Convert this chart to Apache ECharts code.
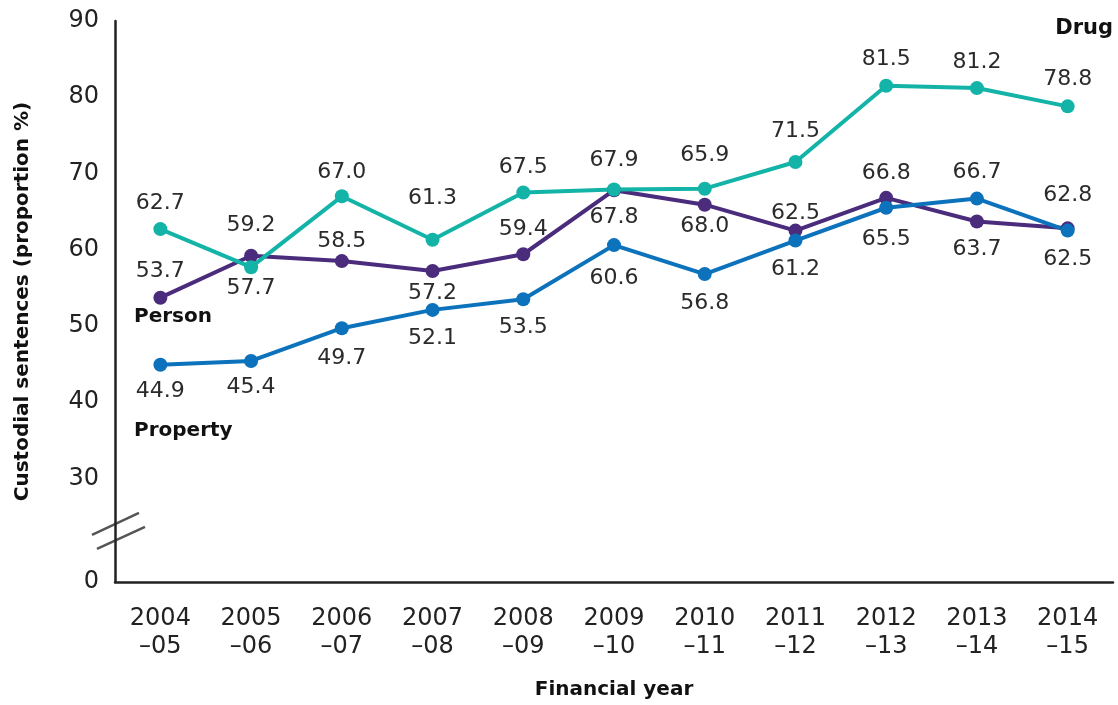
<!DOCTYPE html>
<html>
<head>
<meta charset="utf-8">
<script src="https://cdn.jsdelivr.net/npm/echarts@6/dist/echarts.min.js"></script>
<style>
html,body{margin:0;padding:0;background:#fff;}
#chart{width:1118px;height:705px;}
</style>
</head>
<body>
<div id="chart"></div>
<script>
// ---- data ----
const categories = ['2004\n–05','2005\n–06','2006\n–07','2007\n–08','2008\n–09','2009\n–10','2010\n–11','2011\n–12','2012\n–13','2013\n–14','2014\n–15'];
const drug     = [62.7, 57.7, 67.0, 61.3, 67.5, 67.9, 68.0, 71.5, 81.5, 81.2, 78.8];
const person   = [53.7, 59.2, 58.5, 57.2, 59.4, 67.8, 65.9, 62.5, 66.8, 63.7, 62.8];
const property = [44.9, 45.4, 49.7, 52.1, 53.5, 60.6, 56.8, 61.2, 65.5, 66.7, 62.5];
const yTicks   = [30, 40, 50, 60, 70, 80, 90];

// ---- layout (label placement, px offsets from each point) ----
const drugLabelDy     = [-26, 21, -24, -41, -25, -29, 38, -31, -27, -26, -27];
const personLabelDy   = [-26, -30, -20, 22, -25, 27, -49, -17, -25, 28, -33];
const propertyLabelDy = [27, 26, 30, 28, 28, 33, 29, 29, 32, -26, 29];

const FONT = 'DejaVu Sans';
const AXIS_MIN = 16.4;

function mkData(vals, dys) {
  return vals.map((v, i) => ({
    value: v,
    label: { offset: [0, dys[i]] }
  }));
}

function mkSeries(name, vals, dys, color) {
  return {
    name: name,
    type: 'line',
    data: mkData(vals, dys),
    symbol: 'circle',
    symbolSize: 14,
    lineStyle: { width: 4, color: color },
    itemStyle: { color: color },
    label: {
      show: true,
      position: 'inside',
      formatter: p => p.value.toFixed(1),
      fontFamily: FONT,
      fontSize: 22,
      color: '#2b2b2b'
    },
    emphasis: { disabled: true },
    animation: false
  };
}

const chart = echarts.init(document.getElementById('chart'), null, { renderer: 'canvas' });

const option = {
  backgroundColor: '#fff',
  animation: false,
  grid: { left: 115, right: 5, top: 21, bottom: 117, containLabel: false },
  xAxis: {
    type: 'category',
    data: categories,
    boundaryGap: true,
    axisLine: { lineStyle: { color: '#222', width: 2.5 } },
    axisTick: { show: false },
    axisLabel: { fontFamily: FONT, fontSize: 24, color: '#222', lineHeight: 28, margin: 23, interval: 0 },
    name: 'Financial year',
    nameLocation: 'middle',
    nameGap: 98,
    nameTextStyle: { fontFamily: FONT, fontSize: 20, fontWeight: 'bold', color: '#111' }
  },
  yAxis: {
    type: 'value',
    min: AXIS_MIN,
    max: 90,
    axisLine: { show: true, lineStyle: { color: '#222', width: 2.5 } },
    axisTick: { show: false },
    splitLine: { show: false },
    axisLabel: {
      customValues: [AXIS_MIN].concat(yTicks),
      formatter: v => (Math.abs(v - AXIS_MIN) < 0.01 ? '0' : String(Math.round(v))),
      fontFamily: FONT, fontSize: 24, color: '#222', margin: 16
    },
    name: 'Custodial sentences (proportion %)',
    nameLocation: 'middle',
    nameRotate: 90,
    nameGap: 82,
    nameTextStyle: { fontFamily: FONT, fontSize: 20, fontWeight: 'bold', color: '#111' }
  },
  series: [
    mkSeries('Person', person, personLabelDy, '#4a2b7c'),
    mkSeries('Property', property, propertyLabelDy, '#0b72bb'),
    mkSeries('Drug', drug, drugLabelDy, '#13b4a7')
  ]
};
chart.setOption(option);

// series name labels and axis break marks
const ax = 115;
const brk = chart.convertToPixel({ yAxisIndex: 0 }, 23.1);
chart.setOption({
  graphic: [
    { type: 'text', right: 5, top: 18, style: { text: 'Drug', fontFamily: FONT, fontSize: 21, fontWeight: 'bold', fill: '#111' } },
    { type: 'text', left: 134, top: 307, style: { text: 'Person', fontFamily: FONT, fontSize: 20, fontWeight: 'bold', fill: '#111' } },
    { type: 'text', left: 134, top: 421, style: { text: 'Property', fontFamily: FONT, fontSize: 20, fontWeight: 'bold', fill: '#111' } },
    { type: 'line', shape: { x1: ax - 23, y1: brk - 7 + 11, x2: ax + 24, y2: brk - 7 - 11 }, style: { stroke: '#555', lineWidth: 2.5 } },
    { type: 'line', shape: { x1: ax - 18, y1: brk + 7 + 11, x2: ax + 30, y2: brk + 7 - 11 }, style: { stroke: '#555', lineWidth: 2.5 } }
  ]
});
</script>
</body>
</html>
